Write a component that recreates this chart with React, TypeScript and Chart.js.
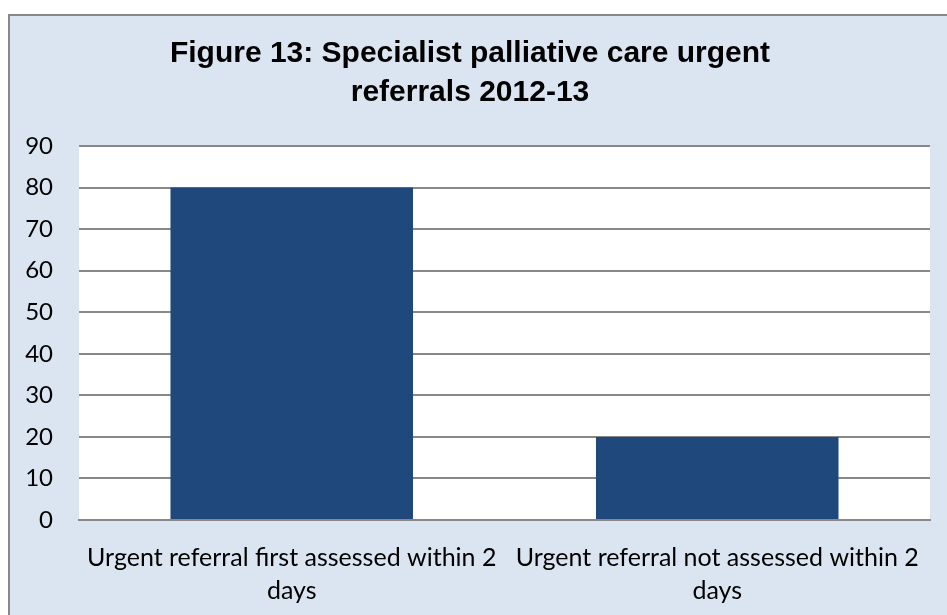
import React, { useEffect, useRef } from "react";
import { Chart, registerables } from "chart.js";

Chart.register(...registerables);

const titleLines = ["Figure 13: Specialist palliative care urgent", "referrals 2012-13"];
const categories = [
  ["Urgent referral first assessed within 2", "days"],
  ["Urgent referral not assessed within 2", "days"],
];
const seriesValues = [80, 20];
const yMin = 0;
const yMax = 90;
const yStep = 10;

const plotBg = {
  id: "plotBg",
  beforeDraw(chart: any) {
    const { ctx, chartArea } = chart;
    ctx.save();
    ctx.fillStyle = "#ffffff";
    ctx.fillRect(chartArea.left, chartArea.top, chartArea.right - chartArea.left, chartArea.bottom - chartArea.top);
    ctx.restore();
  },
};

const titlePlugin = {
  id: "customTitle",
  afterDraw(chart: any) {
    const { ctx } = chart;
    ctx.save();
    ctx.fillStyle = "#000000";
    ctx.font = "bold 30px 'Liberation Sans', Arial, sans-serif";
    ctx.textAlign = "center";
    ctx.textBaseline = "alphabetic";
    const cx = 460;
    titleLines.forEach((line, i) => {
      ctx.fillText(line, cx, 46 + i * 38.5);
    });
    ctx.restore();
  },
};

export default function App() {
  const ref = useRef<HTMLCanvasElement>(null);
  useEffect(() => {
    const chart = new Chart(ref.current!, {
      type: "bar",
      data: {
        labels: categories,
        datasets: [
          {
            data: seriesValues,
            backgroundColor: "#1f497d",
            barPercentage: 0.57,
            categoryPercentage: 1,
          },
        ],
      },
      options: {
        animation: false,
        responsive: false,
        layout: { padding: { left: 15, right: 17, top: 130, bottom: 11 } },
        plugins: {
          legend: { display: false },
          tooltip: { enabled: false },
          title: { display: false },
        },
        scales: {
          x: {
            grid: { display: false, drawTicks: false },
            border: { display: true, color: "#888888", width: 2 },
            ticks: {
              color: "#000000",
              font: { family: "Lato, Calibri, sans-serif", size: 25, lineHeight: 1.32 },
              padding: 21,
              maxRotation: 0,
              autoSkip: false,
            },
            afterFit(scale: any) {
              scale.paddingLeft = 0;
              scale.paddingRight = 0;
              scale.height = 84;
            },
          },
          y: {
            min: yMin,
            max: yMax,
            grid: { color: "#888888", lineWidth: 2, drawTicks: false },
            border: { display: false },
            ticks: {
              stepSize: yStep,
              color: "#000000",
              font: { family: "Lato, Calibri, sans-serif", size: 24 },
              padding: 26,
            },
            afterFit(scale: any) {
              scale.paddingTop = 0;
              scale.paddingBottom = 0;
              scale.width = 54;
            },
          },
        },
      },
      plugins: [plotBg, titlePlugin],
    });
    return () => chart.destroy();
  }, []);
  return (
    <div
      style={{
        position: "absolute",
        left: 8,
        top: 14,
        width: 939,
        height: 601,
        boxSizing: "border-box",
        borderLeft: "2px solid #888888",
        borderTop: "2px solid #888888",
        background: "#dbe5f1",
        overflow: "hidden",
      }}
    >
      <canvas ref={ref} width={937} height={599} style={{ display: "block" }} />
    </div>
  );
}
